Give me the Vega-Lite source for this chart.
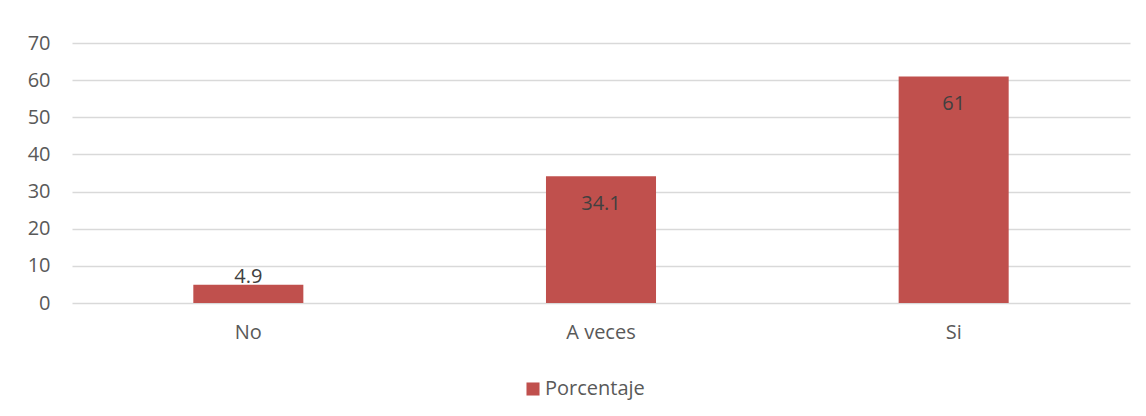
{
  "$schema": "https://vega.github.io/schema/vega-lite/v6.json",
  "autosize": "none",
  "width": 1058,
  "height": 260,
  "padding": {"left": 72, "top": 43, "right": 16, "bottom": 113},
  "background": "white",
  "data": {"values": [
    {"Respuesta": "No", "Porcentaje": 4.9, "Serie": "Porcentaje"},
    {"Respuesta": "A veces", "Porcentaje": 34.1, "Serie": "Porcentaje"},
    {"Respuesta": "Si", "Porcentaje": 61, "Serie": "Porcentaje"}
  ]},
  "encoding": {
    "x": {"field": "Respuesta", "type": "nominal", "sort": null,
      "scale": {"paddingInner": 0.688, "paddingOuter": 0.344},
      "axis": {"title": null, "labelAngle": 0, "domain": false, "ticks": false, "labelPadding": 19, "labelFont": "Open Sans", "labelFontSize": 20, "labelColor": "#595959"}},
    "y": {"field": "Porcentaje", "type": "quantitative",
      "scale": {"domain": [0, 70]},
      "axis": {"title": null, "values": [0,10,20,30,40,50,60,70], "domain": false, "ticks": false, "labelPadding": 22, "labelFont": "Open Sans", "labelFontSize": 20, "labelColor": "#595959", "gridColor": "#D9D9D9", "gridWidth": 1.5}}
  },
  "layer": [
    {"mark": {"type": "bar", "color": "#C0504D"},
      "encoding": {"color": {"field": "Serie", "type": "nominal", "scale": {"range": ["#C0504D"]},
        "legend": {"title": null, "orient": "none", "legendX": 451, "legendY": 336, "padding": 0, "direction": "horizontal", "symbolType": "square", "symbolSize": 170, "symbolStrokeWidth": 0, "symbolOffset": 0, "labelOffset": 2, "labelFont": "Open Sans", "labelFontSize": 20, "labelColor": "#595959"}}}},
    {"transform": [{"filter": "datum.Porcentaje >= 10"}],
      "mark": {"type": "text", "font": "Open Sans", "fontSize": 20, "color": "#404040", "baseline": "middle", "dy": 28},
      "encoding": {"text": {"field": "Porcentaje", "type": "quantitative"}}},
    {"transform": [{"filter": "datum.Porcentaje < 10"}],
      "mark": {"type": "text", "font": "Open Sans", "fontSize": 20, "color": "#404040", "baseline": "middle", "dy": -8},
      "encoding": {"text": {"field": "Porcentaje", "type": "quantitative"}}}
  ],
  "config": {"view": {"stroke": null}}
}
